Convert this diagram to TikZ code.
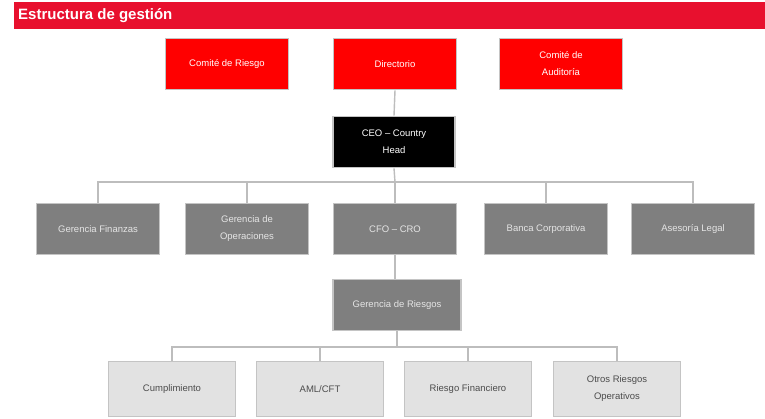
\documentclass[tikz,border=0pt]{standalone}
\usepackage{fontspec}
\setmainfont{Liberation Sans}
\definecolor{hdrred}{HTML}{E8102E}
\definecolor{boxred}{HTML}{FF0000}
\definecolor{boxgray}{HTML}{7F7F7F}
\definecolor{boxlight}{HTML}{E2E2E2}
\definecolor{rim}{HTML}{C4C4C4}
\definecolor{linegray}{HTML}{BDBDBD}
\tikzset{
  base/.style={rectangle, draw=rim, line width=1.6pt, minimum height=51pt, align=center, font=\fontsize{9.5}{17}\selectfont, inner sep=2pt},
  redbox/.style={base, fill=boxred, text=white, minimum width=123pt},
  blackbox/.style={base, fill=black, text=white, minimum width=122pt},
  graybox/.style={base, fill=boxgray, text=white!90!black, minimum width=123pt},
  lightbox/.style={base, fill=boxlight, text=black!70, minimum width=127pt, minimum height=55pt},
  conn/.style={draw=linegray, line width=1.4pt}
}
\begin{document}
\begin{tikzpicture}[x=1pt,y=-1pt]
\useasboundingbox (0,0) rectangle (765,418);
\fill[white] (0,0) rectangle (765,418);
% header
\fill[hdrred] (14,2) rectangle (765,29);
\node[anchor=west, text=white, font=\bfseries\fontsize{15}{17}\selectfont, inner sep=0pt] (title) at (18,16) {Estructura de gestión};
% top row
\node[redbox] (riesgo) at (227,64) {Comité de Riesgo};
\node[redbox] (dir) at (395,64) {Directorio};
\node[redbox] (audit) at (561,64) {Comité de\\Auditoría};
% CEO
\node[blackbox] (ceo) at (394,142) {CEO – Country\\Head};
% middle row
\node[graybox] (m1) at (98,229) {Gerencia Finanzas};
\node[graybox] (m2) at (247,229) {Gerencia de\\Operaciones};
\node[graybox] (m3) at (395,229) {CFO – CRO};
\node[graybox] (m4) at (546,229) {Banca Corporativa};
\node[graybox] (m5) at (693,229) {Asesoría Legal};
% risk management
\node[graybox, minimum width=128pt] (gr) at (397,305) {Gerencia de Riesgos};
% bottom row
\node[lightbox] (b1) at (172,389) {Cumplimiento};
\node[lightbox] (b2) at (320,389) {AML/CFT};
\node[lightbox] (b3) at (468,389) {Riesgo Financiero};
\node[lightbox] (b4) at (617,389) {Otros Riesgos\\Operativos};
% connectors
\coordinate (h1) at (395,182);
\coordinate (h2) at (395,347);
\draw[conn] (dir.south) -- (ceo.north);
\draw[conn] (ceo.south) -- (h1);
\draw[conn] (m1.north) |- (h1) -| (m5.north);
\draw[conn] (m2.north) -- (m2.north |- h1);
\draw[conn] (m3.north) -- (m3.north |- h1);
\draw[conn] (m4.north) -- (m4.north |- h1);
\draw[conn] (m3.south) -- (gr.north -| m3.south);
\draw[conn] (gr.south) -- (gr.south |- h2);
\draw[conn] (b1.north) |- (h2) -| (b4.north);
\draw[conn] (b2.north) -- (b2.north |- h2);
\draw[conn] (b3.north) -- (b3.north |- h2);
\end{tikzpicture}
\end{document}
